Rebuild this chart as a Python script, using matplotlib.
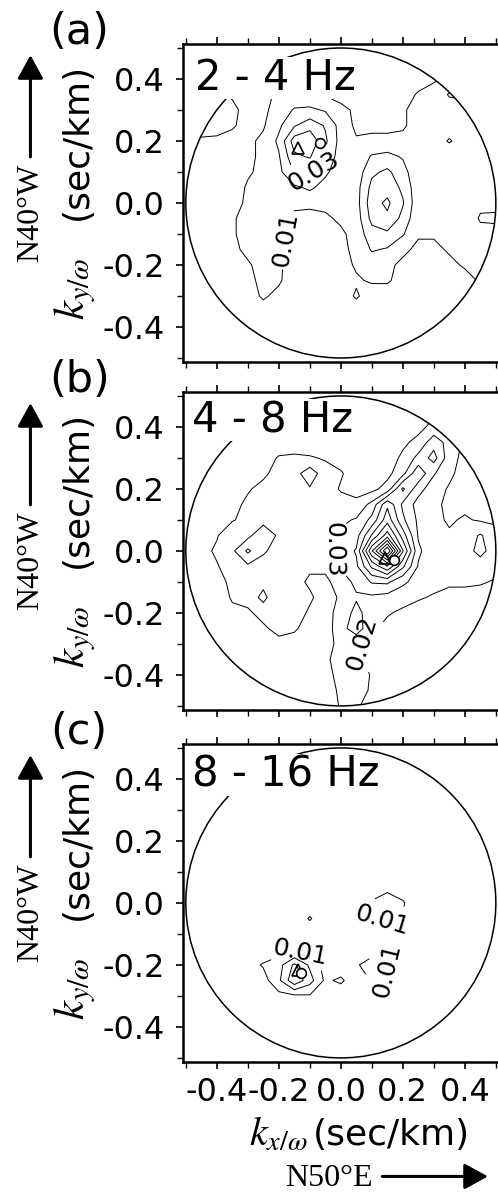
import numpy as np
import matplotlib.pyplot as plt
from matplotlib.patches import Circle
from matplotlib.ticker import MultipleLocator, FuncFormatter

plt.rcParams['font.family'] = ['DejaVu Sans']
plt.rcParams['mathtext.fontset'] = 'stix'

# slowness grid (sec/km), 0.05 spacing
kx = np.linspace(-0.5, 0.5, 21)
ky = np.linspace(0.5, -0.5, 21)

# f-k power x 1000, rows from ky=+0.5 (top) to ky=-0.5 (bottom)
p_2_4 = [
    [6, 6, 6, 6, 6, 6, 6, 6, 6, 6, 6, 6, 6, 6, 6, 6, 6, 6, 6, 6, 6],
    [6, 6, 6, 6, 6, 6, 8, 8, 8, 6, 6, 6, 6, 6, 6, 6, 6, 6, 6, 6, 6],
    [6, 6, 6, 6, 6, 6, 9, 9, 9, 7, 6, 6, 6, 6, 6, 6, 9, 12, 12, 12, 12],
    [6, 9, 11, 9, 6, 7, 12, 13, 12, 9, 6, 6, 6, 6, 6, 11, 13, 21, 22, 13, 13],
    [12, 14, 15, 12, 7, 8, 14, 21, 22, 19, 13, 8, 7, 7, 9, 13, 14, 15, 16, 14, 13],
    [11, 13, 14, 11, 7, 9, 18, 29, 36, 29, 16, 8, 8, 8, 9, 13, 14, 15, 14, 13, 13],
    [8, 9, 8, 7, 8, 12, 22, 45, 48, 32, 16, 11, 12, 12, 12, 14, 15, 21, 15, 14, 13],
    [6, 6, 6, 7, 8, 12, 19, 38, 41, 28, 15, 13, 21, 23, 19, 12, 14, 13, 14, 13, 13],
    [6, 6, 6, 6, 9, 12, 17, 31, 32, 22, 14, 14, 28, 32, 24, 12, 13, 13, 13, 13, 12],
    [6, 6, 6, 6, 11, 13, 14, 18, 22, 16, 13, 16, 33, 36, 28, 13, 13, 12, 13, 14, 13],
    [6, 6, 6, 8, 11, 14, 13, 11, 12, 13, 14, 16, 36, 42, 31, 13, 12, 12, 13, 18, 17],
    [6, 6, 6, 9, 13, 14, 12, 9, 7, 8, 12, 15, 33, 38, 27, 12, 12, 12, 14, 21, 22],
    [6, 6, 6, 9, 13, 14, 12, 8, 6, 6, 8, 14, 26, 28, 21, 11, 11, 12, 13, 17, 16],
    [6, 6, 6, 8, 12, 13, 11, 7, 6, 6, 8, 12, 21, 19, 12, 8, 8, 11, 13, 13, 12],
    [6, 6, 6, 6, 9, 13, 11, 7, 6, 6, 7, 11, 14, 12, 8, 7, 7, 8, 11, 12, 12],
    [6, 6, 6, 6, 8, 12, 11, 6, 6, 6, 8, 9, 11, 11, 7, 6, 6, 6, 7, 11, 11],
    [6, 6, 6, 6, 7, 11, 8, 6, 6, 6, 6, 11, 6, 6, 6, 6, 6, 6, 6, 6, 6],
    [6, 6, 6, 6, 6, 7, 6, 6, 6, 6, 6, 6, 6, 6, 6, 6, 6, 6, 6, 6, 6],
    [6, 6, 6, 6, 6, 6, 6, 6, 6, 6, 6, 6, 6, 6, 6, 6, 6, 6, 6, 6, 6],
    [6, 6, 6, 6, 6, 6, 6, 6, 6, 6, 6, 6, 6, 6, 6, 6, 6, 6, 6, 6, 6],
    [6, 6, 6, 6, 6, 6, 6, 6, 6, 6, 6, 6, 6, 6, 6, 6, 6, 6, 6, 6, 6],
]
p_4_8 = [
    [14, 14, 14, 14, 14, 14, 14, 14, 14, 14, 14, 14, 14, 14, 14, 14, 14, 14, 14, 14, 14],
    [14, 14, 14, 14, 14, 14, 14, 14, 14, 14, 14, 14, 14, 14, 14, 14, 18, 19, 14, 14, 14],
    [14, 14, 14, 14, 14, 14, 14, 14, 14, 14, 14, 14, 14, 14, 14, 17, 23, 29, 19, 14, 14],
    [14, 14, 14, 14, 14, 14, 14, 14, 14, 14, 14, 14, 14, 16, 18, 23, 36, 26, 18, 14, 14],
    [14, 14, 14, 14, 14, 15, 21, 22, 21, 19, 16, 14, 14, 15, 22, 33, 44, 24, 17, 14, 14],
    [14, 14, 14, 14, 15, 18, 24, 26, 36, 24, 21, 15, 14, 17, 27, 48, 31, 22, 16, 14, 14],
    [14, 14, 14, 15, 19, 23, 26, 27, 29, 25, 19, 16, 17, 24, 52, 34, 24, 19, 17, 15, 14],
    [14, 14, 14, 17, 22, 25, 24, 25, 27, 23, 24, 23, 33, 58, 38, 26, 21, 19, 18, 16, 15],
    [14, 14, 16, 19, 24, 26, 27, 25, 23, 22, 28, 31, 43, 66, 42, 28, 22, 19, 21, 19, 18],
    [14, 15, 19, 29, 27, 38, 28, 25, 22, 24, 32, 36, 61, 85, 55, 29, 22, 21, 25, 31, 24],
    [14, 16, 22, 28, 42, 31, 27, 24, 22, 26, 34, 41, 89, 131, 71, 32, 23, 21, 26, 33, 25],
    [14, 15, 19, 26, 28, 27, 25, 23, 21, 23, 31, 38, 62, 79, 52, 29, 24, 22, 24, 25, 23],
    [14, 14, 17, 22, 23, 21, 24, 22, 19, 17, 26, 32, 41, 42, 32, 26, 23, 22, 22, 21, 19],
    [14, 14, 15, 21, 22, 19, 23, 24, 21, 17, 21, 29, 28, 26, 24, 21, 19, 16, 16, 16, 16],
    [14, 14, 14, 18, 19, 22, 24, 23, 19, 16, 24, 33, 25, 21, 18, 16, 15, 14, 14, 14, 14],
    [14, 14, 14, 15, 17, 19, 22, 21, 17, 15, 26, 36, 22, 17, 15, 14, 14, 14, 14, 14, 14],
    [14, 14, 14, 14, 15, 16, 18, 17, 15, 15, 24, 21, 18, 15, 14, 14, 14, 14, 14, 14, 14],
    [14, 14, 14, 14, 14, 14, 15, 14, 14, 16, 29, 22, 18, 14, 14, 14, 14, 14, 14, 14, 14],
    [14, 14, 14, 14, 14, 14, 14, 14, 14, 16, 24, 26, 19, 14, 14, 14, 14, 14, 14, 14, 14],
    [14, 14, 14, 14, 14, 14, 14, 14, 14, 15, 22, 23, 19, 14, 14, 14, 14, 14, 14, 14, 14],
    [14, 14, 14, 14, 14, 14, 14, 14, 14, 14, 21, 21, 17, 14, 14, 14, 14, 14, 14, 14, 14],
]
p_8_16 = [
    [3, 3, 3, 3, 3, 3, 3, 3, 3, 3, 3, 3, 3, 3, 3, 3, 3, 3, 3, 3, 3],
    [3, 3, 3, 3, 3, 3, 3, 3, 3, 3, 3, 3, 3, 3, 3, 3, 3, 3, 3, 3, 3],
    [3, 3, 3, 3, 3, 3, 3, 3, 3, 3, 3, 3, 3, 3, 3, 3, 3, 3, 3, 3, 3],
    [3, 3, 3, 3, 3, 3, 3, 3, 3, 3, 3, 3, 3, 3, 3, 3, 3, 3, 3, 3, 3],
    [3, 3, 3, 3, 3, 3, 3, 3, 3, 3, 3, 3, 3, 3, 3, 3, 3, 3, 3, 3, 3],
    [3, 3, 3, 3, 3, 3, 3, 3, 3, 3, 3, 3, 3, 3, 3, 3, 3, 3, 3, 3, 3],
    [3, 3, 3, 3, 3, 3, 3, 3, 3, 3, 3, 3, 3, 3, 3, 3, 3, 3, 3, 3, 3],
    [3, 3, 3, 3, 3, 3, 3, 3, 3, 3, 3, 3, 3, 3, 3, 3, 3, 3, 3, 3, 3],
    [3, 3, 3, 3, 3, 3, 3, 3, 3, 3, 3, 3, 3, 3, 3, 3, 3, 3, 3, 3, 3],
    [3, 3, 3, 3, 3, 3, 3, 3, 3, 3, 3, 3, 5, 8, 5, 3, 3, 3, 3, 3, 3],
    [3, 3, 3, 3, 3, 3, 3, 3, 3, 3, 3, 4, 11, 14, 11, 3, 3, 3, 3, 3, 3],
    [3, 3, 3, 3, 3, 3, 3, 3, 11, 3, 3, 4, 9, 12, 9, 3, 3, 3, 3, 3, 3],
    [3, 3, 3, 3, 3, 3, 3, 4, 4, 3, 3, 3, 4, 5, 3, 3, 3, 3, 3, 3, 3],
    [3, 3, 3, 3, 3, 3, 5, 6, 5, 3, 3, 3, 6, 4, 3, 3, 3, 3, 3, 3, 3],
    [3, 3, 3, 3, 6, 11, 16, 32, 18, 6, 3, 9, 14, 12, 3, 3, 3, 3, 3, 3, 3],
    [3, 3, 3, 3, 3, 6, 18, 38, 24, 8, 12, 3, 11, 6, 3, 3, 3, 3, 3, 3, 3],
    [3, 3, 3, 3, 3, 3, 7, 8, 9, 5, 3, 3, 3, 3, 3, 3, 3, 3, 3, 3, 3],
    [3, 3, 3, 3, 3, 3, 3, 3, 3, 3, 3, 3, 3, 3, 3, 3, 3, 3, 3, 3, 3],
    [3, 3, 3, 3, 3, 3, 3, 3, 3, 3, 3, 3, 3, 3, 3, 3, 3, 3, 3, 3, 3],
    [3, 3, 3, 3, 3, 3, 3, 3, 3, 3, 3, 3, 3, 3, 3, 3, 3, 3, 3, 3, 3],
    [3, 3, 3, 3, 3, 3, 3, 3, 3, 3, 3, 3, 3, 3, 3, 3, 3, 3, 3, 3, 3],
]

bands = ["2 - 4 Hz", "4 - 8 Hz", "8 - 16 Hz"]
tags = ["(a)", "(b)", "(c)"]
levels_a = [0.01, 0.02, 0.03, 0.04]
levels_b = [0.02, 0.03, 0.04, 0.05, 0.06, 0.07, 0.08, 0.09, 0.10, 0.11, 0.12]
levels_c = [0.01, 0.02, 0.03]

# where the contour labels sit: (kx, ky, level)
labels_a = [(-0.078, 0.096, 0.03), (-0.132, -0.130, 0.01)]
labels_b = [(-0.046, 0.01, 0.03), (0.072, -0.302, 0.02)]
labels_c = [(-0.127, -0.141, 0.01), (0.126, -0.076, 0.01), (0.18, -0.243, 0.01)]

# triangle and circle markers per panel
tri_x = [-0.138, 0.142, -0.138]
tri_y = [0.176, -0.023, -0.216]
dot_x = [-0.068, 0.171, -0.130]
dot_y = [0.192, -0.028, -0.227]

grids = [p_2_4, p_4_8, p_8_16]
levels = [levels_a, levels_b, levels_c]
labels = [labels_a, labels_b, labels_c]
bottoms = [0.6963, 0.4044, 0.1091]
band_pos = [(0.040, 0.855), (0.030, 0.874), (0.030, 0.865)]
arrow_style = '-|>,head_length=0.4,head_width=0.22'

fig = plt.figure(figsize=(4.98, 11.92), dpi=100)
KX, KY = np.meshgrid(kx, ky)

for n in range(3):
    ax = fig.add_axes([0.3669, bottoms[n], 0.6331, 0.2668])
    Z = np.array(grids[n]) / 1000.0
    lab_levels = sorted(set(l[2] for l in labels[n]))
    plain = [v for v in levels[n] if v not in lab_levels]
    sets = [ax.contour(KX, KY, Z, levels=plain, colors='k', linewidths=0.7)]
    # labelled levels drawn on their own so clabel(manual=...) only sees that level
    for lev in lab_levels:
        cl = ax.contour(KX, KY, Z, levels=[lev], colors='k', linewidths=0.7)
        spots = [(l[0], l[1]) for l in labels[n] if l[2] == lev]
        cl.clabel(manual=spots, inline=True, fmt='%.2f', fontsize=18, inline_spacing=3)
        sets.append(cl)
    clip = Circle((0, 0), 0.5, transform=ax.transData)
    for cs in sets:
        cs.set_clip_path(clip)
    ax.add_patch(Circle((0, 0), 0.5, fill=False, ec='k', lw=1.1, zorder=3))

    ax.plot(tri_x[n], tri_y[n], marker='^', ms=9, mfc='none', mec='k', mew=1.2, ls='none', zorder=4)
    ax.plot(dot_x[n], dot_y[n], marker='o', ms=7, mfc='white', mec='k', mew=1.2, ls='none', zorder=4)

    ax.set_xlim(-0.51, 0.507)
    ax.set_ylim(-0.513, 0.513)
    ax.xaxis.set_major_locator(MultipleLocator(0.2))
    ax.xaxis.set_minor_locator(MultipleLocator(0.1))
    ax.yaxis.set_major_locator(MultipleLocator(0.2))
    ax.yaxis.set_minor_locator(MultipleLocator(0.1))
    fmt = FuncFormatter(lambda v, p: ('%.1f' % v).replace('-0.0', '0.0'))
    ax.xaxis.set_major_formatter(fmt)
    ax.yaxis.set_major_formatter(fmt)
    ax.tick_params(which='major', direction='out', length=5, width=1.2, top=True, right=False,
                   labelsize=23, pad=8)
    ax.tick_params(which='minor', direction='out', length=4, width=1.0, top=True, right=False)
    ax.tick_params(axis='x', pad=6)
    for s in ['left', 'bottom', 'top']:
        ax.spines[s].set_linewidth(1.8)
    ax.spines['right'].set_visible(False)
    if n < 2:
        ax.tick_params(labelbottom=False)

    ax.text(band_pos[n][0], band_pos[n][1], bands[n], transform=ax.transAxes, fontsize=30,
            ha='left', va='baseline', zorder=6,
            bbox=dict(facecolor='white', edgecolor='none', pad=0))
    ax.text(-0.328, 1.038, tags[n], transform=ax.transAxes, fontsize=31,
            ha='center', va='center')

    # y axis title: italic k_y/w followed by (sec/km)
    ax.text(-0.3035, 0.940, '(sec/km)', transform=ax.transAxes, fontsize=26,
            rotation=90, rotation_mode='anchor', ha='right', va='baseline')
    ax.text(-0.313, 0.132, r'$k_{y/\omega}$', transform=ax.transAxes, fontsize=31,
            rotation=90, rotation_mode='anchor', ha='left', va='baseline')

    ax.text(-0.483, 0.314, 'N40°W', transform=ax.transAxes, rotation=90, fontsize=23,
            family='Liberation Serif', ha='center', va='bottom')
    ax.annotate('', xy=(-0.483, 0.965), xytext=(-0.483, 0.645),
                xycoords='axes fraction', textcoords='axes fraction',
                arrowprops=dict(arrowstyle=arrow_style, color='k', lw=2.2,
                                mutation_scale=36, shrinkA=0, shrinkB=0),
                annotation_clip=False)

    if n == 2:
        ax.text(0.413, -0.261, '(sec/km)', transform=ax.transAxes, fontsize=26,
                ha='left', va='baseline')
        ax.text(0.395, -0.261, r'$k_{x/\omega}$', transform=ax.transAxes, fontsize=29,
                ha='right', va='baseline')
        ax.text(0.602, -0.365, 'N50°E', transform=ax.transAxes, fontsize=23,
                family='Liberation Serif', ha='right', va='center')
        ax.annotate('', xy=(0.968, -0.36), xytext=(0.633, -0.36),
                    xycoords='axes fraction', textcoords='axes fraction',
                    arrowprops=dict(arrowstyle=arrow_style, color='k', lw=2.2,
                                    mutation_scale=36, shrinkA=0, shrinkB=0),
                    annotation_clip=False)

fig.savefig('out.png', dpi=100)
